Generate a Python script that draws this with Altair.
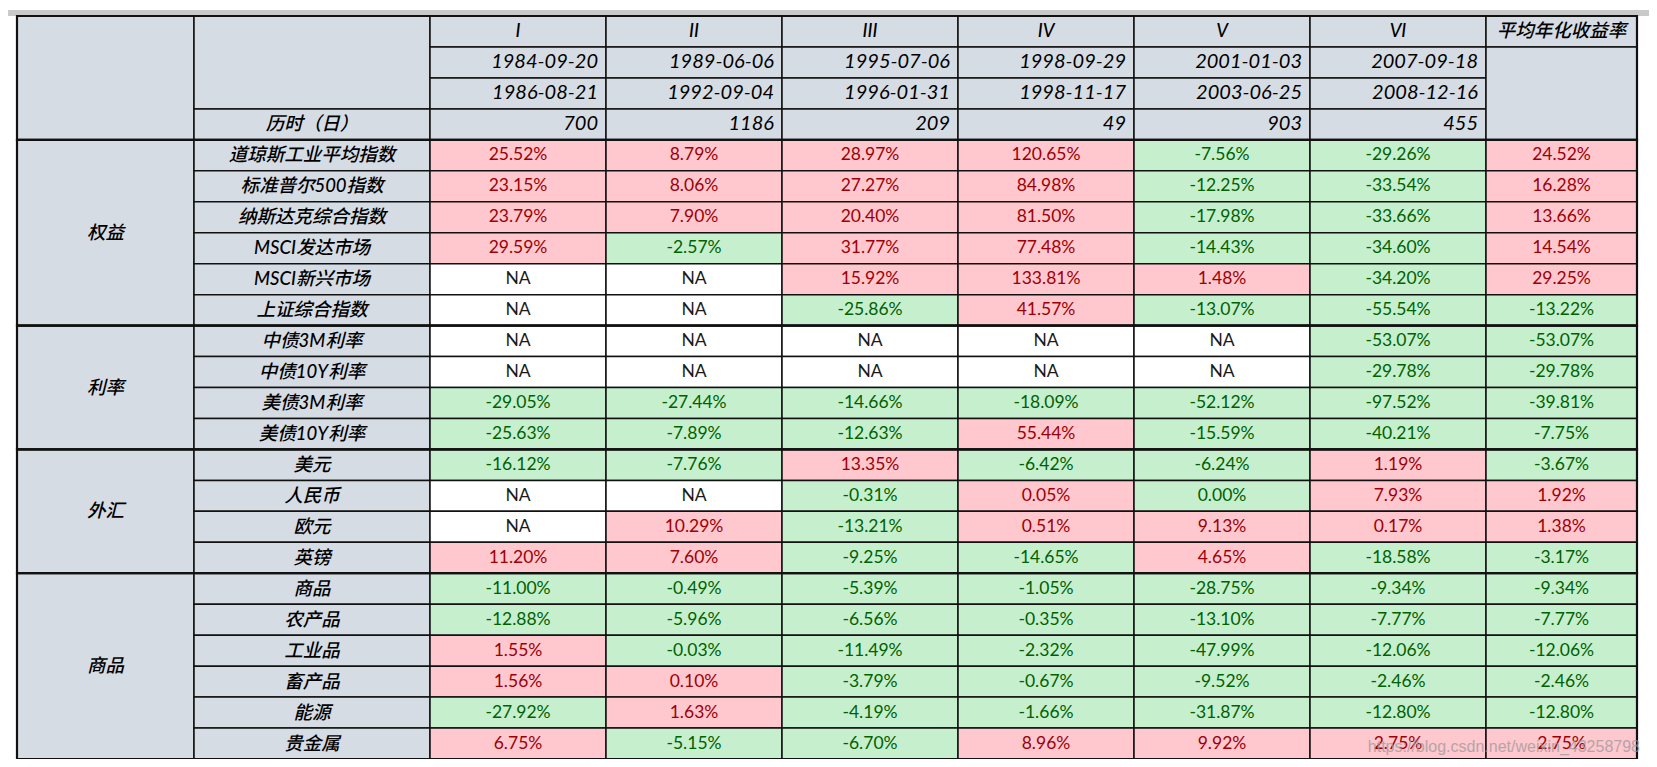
import altair as alt
import pandas as pd

# ---------------- data ----------------
periods = ["I", "II", "III", "IV", "V", "VI"]
start_dates = ["1984-09-20", "1989-06-06", "1995-07-06", "1998-09-29", "2001-01-03", "2007-09-18"]
end_dates = ["1986-08-21", "1992-09-04", "1996-01-31", "1998-11-17", "2003-06-25", "2008-12-16"]
durations = [700, 1186, 209, 49, 903, 455]
avg_label = "平均年化收益率"
dur_label = "历时（日）"

groups = ["权益", "利率", "外汇", "商品"]
group_sizes = [6, 4, 4, 6]
assets = ["道琼斯工业平均指数", "标准普尔500指数", "纳斯达克综合指数", "MSCI发达市场", "MSCI新兴市场", "上证综合指数",
          "中债3M利率", "中债10Y利率", "美债3M利率", "美债10Y利率",
          "美元", "人民币", "欧元", "英镑",
          "商品", "农产品", "工业品", "畜产品", "能源", "贵金属"]
NA = None
# columns: I, II, III, IV, V, VI, 平均年化收益率  (in %)
ret_I   = [25.52, 23.15, 23.79, 29.59, NA, NA, NA, NA, -29.05, -25.63, -16.12, NA, NA, 11.20, -11.00, -12.88, 1.55, 1.56, -27.92, 6.75]
ret_II  = [8.79, 8.06, 7.90, -2.57, NA, NA, NA, NA, -27.44, -7.89, -7.76, NA, 10.29, 7.60, -0.49, -5.96, -0.03, 0.10, 1.63, -5.15]
ret_III = [28.97, 27.27, 20.40, 31.77, 15.92, -25.86, NA, NA, -14.66, -12.63, 13.35, -0.31, -13.21, -9.25, -5.39, -6.56, -11.49, -3.79, -4.19, -6.70]
ret_IV  = [120.65, 84.98, 81.50, 77.48, 133.81, 41.57, NA, NA, -18.09, 55.44, -6.42, 0.05, 0.51, -14.65, -1.05, -0.35, -2.32, -0.67, -1.66, 8.96]
ret_V   = [-7.56, -12.25, -17.98, -14.43, 1.48, -13.07, NA, NA, -52.12, -15.59, -6.24, 0.00, 9.13, 4.65, -28.75, -13.10, -47.99, -9.52, -31.87, 9.92]
ret_VI  = [-29.26, -33.54, -33.66, -34.60, -34.20, -55.54, -53.07, -29.78, -97.52, -40.21, 1.19, 7.93, 0.17, -18.58, -9.34, -7.77, -12.06, -2.46, -12.80, 2.75]
ret_avg = [24.52, 16.28, 13.66, 14.54, 29.25, -13.22, -53.07, -29.78, -39.81, -7.75, -3.67, 1.92, 1.38, -3.17, -9.34, -7.77, -12.06, -2.46, -12.80, 2.75]
value_columns = [ret_I, ret_II, ret_III, ret_IV, ret_V, ret_VI, ret_avg]

watermark = "https://blog.csdn.net/weixin_43258798"

# ---------------- layout / style ----------------
W, H = 1641, 751
COL_EDGES = [9, 186, 422, 598, 774, 950, 1126, 1302, 1478, 1629]
TOP = 8
N_ROWS = 4 + sum(group_sizes)
ROWH = (751 - TOP) / N_ROWS

HEAD_BG = "#D6DCE4"
POS_BG, POS_TX = "#FFC7CE", "#9C0006"
NEG_BG, NEG_TX = "#C6EFCE", "#006100"
NA_BG, NA_TX = "#FFFFFF", "#1a1a1a"
LINE = "#111111"
FONT = "Lato, 'Noto Sans CJK SC'"

def ry(r):
    return TOP + r * ROWH

cells, group_boxes = [], []
txt_c, txt_r, txt_v = [], [], []

def cell(c0, c1, r0, r1, fill):
    cells.append(dict(x=COL_EDGES[c0], x2=COL_EDGES[c1], y=ry(r0), y2=ry(r1), fill=fill))

def tcenter(c0, c1, r0, r1, s):
    txt_c.append(dict(x=(COL_EDGES[c0] + COL_EDGES[c1]) / 2, y=(ry(r0) + ry(r1)) / 2, t=s))

# header
cell(0, 1, 0, 4, HEAD_BG)
cell(1, 2, 0, 3, HEAD_BG)
cell(1, 2, 3, 4, HEAD_BG)
tcenter(1, 2, 3, 4, dur_label)
for i, p in enumerate(periods):
    c = 2 + i
    for r in range(4):
        cell(c, c + 1, r, r + 1, HEAD_BG)
    tcenter(c, c + 1, 0, 1, p)
    for r, s in zip([1, 2, 3], [start_dates[i], end_dates[i], str(durations[i])]):
        txt_r.append(dict(x=COL_EDGES[c + 1], y=(ry(r) + ry(r + 1)) / 2, t=s))
cell(8, 9, 0, 1, HEAD_BG)
cell(8, 9, 1, 4, HEAD_BG)
tcenter(8, 9, 0, 1, avg_label)
group_boxes.append(dict(x=COL_EDGES[0], x2=COL_EDGES[-1], y=ry(0), y2=ry(4)))

# body
r = 4
k = 0
for g, n in zip(groups, group_sizes):
    cell(0, 1, r, r + n, HEAD_BG)
    tcenter(0, 1, r, r + n, g)
    group_boxes.append(dict(x=COL_EDGES[0], x2=COL_EDGES[-1], y=ry(r), y2=ry(r + n)))
    for j in range(n):
        rr = r + j
        cell(1, 2, rr, rr + 1, HEAD_BG)
        tcenter(1, 2, rr, rr + 1, assets[k])
        for ci, col in enumerate(value_columns):
            v = col[k]
            c = 2 + ci
            if v is None:
                bg, tc, s = NA_BG, NA_TX, "NA"
            elif v > 0:
                bg, tc, s = POS_BG, POS_TX, f"{v:.2f}%"
            else:
                bg, tc, s = NEG_BG, NEG_TX, f"{v:.2f}%"
            cell(c, c + 1, rr, rr + 1, bg)
            txt_v.append(dict(x=(COL_EDGES[c] + COL_EDGES[c + 1]) / 2, y=(ry(rr) + ry(rr + 1)) / 2, t=s, tc=tc))
        k += 1
    r += n

X = alt.Scale(domain=[0, W], nice=False, zero=False)
Y = alt.Scale(domain=[0, H], nice=False, zero=False, reverse=True)

band = alt.Chart(pd.DataFrame({"a": [0]})).mark_rect(color="#c9c9c9").encode(
    x=alt.value(0), x2=alt.value(W), y=alt.value(2), y2=alt.value(TOP))

rects = alt.Chart(pd.DataFrame(cells)).mark_rect(stroke=LINE, strokeWidth=1.5).encode(
    x=alt.X("x:Q", scale=X, axis=None), x2="x2:Q",
    y=alt.Y("y:Q", scale=Y, axis=None), y2="y2:Q",
    fill=alt.Fill("fill:N", scale=None))

boxes = alt.Chart(pd.DataFrame(group_boxes)).mark_rect(fillOpacity=0, stroke=LINE, strokeWidth=2.2).encode(
    x=alt.X("x:Q", scale=X, axis=None), x2="x2:Q",
    y=alt.Y("y:Q", scale=Y, axis=None), y2="y2:Q")

labels_c = alt.Chart(pd.DataFrame(txt_c)).mark_text(
    font=FONT, fontSize=18.5, fontStyle="italic", fontWeight=500, color="#000000",
    align="center", baseline="middle").encode(
    x=alt.X("x:Q", scale=X, axis=None), y=alt.Y("y:Q", scale=Y, axis=None), text="t:N")

labels_r = alt.Chart(pd.DataFrame(txt_r)).mark_text(
    font=FONT, fontSize=20, fontStyle="italic", color="#000000", align="right", baseline="middle", dx=-8).encode(
    x=alt.X("x:Q", scale=X, axis=None), y=alt.Y("y:Q", scale=Y, axis=None), text="t:N")

values = alt.Chart(pd.DataFrame(txt_v)).mark_text(
    font=FONT, fontSize=17.5, align="center", baseline="middle").encode(
    x=alt.X("x:Q", scale=X, axis=None), y=alt.Y("y:Q", scale=Y, axis=None), text="t:N",
    color=alt.Color("tc:N", scale=None))

wm = alt.Chart(pd.DataFrame({"t": [watermark]})).mark_text(
    font="Liberation Sans", fontSize=16, align="right", baseline="middle", color="#9a9a9a", opacity=0.75).encode(
    x=alt.value(1632), y=alt.value(739), text="t:N")

chart = alt.layer(band, rects, boxes, labels_c, labels_r, values, wm).properties(
    width=W, height=H, padding=0, autosize=alt.AutoSizeParams(type="none")
).configure_view(stroke=None)

chart.save("out.html", embed_options={"renderer": "svg", "actions": False})
